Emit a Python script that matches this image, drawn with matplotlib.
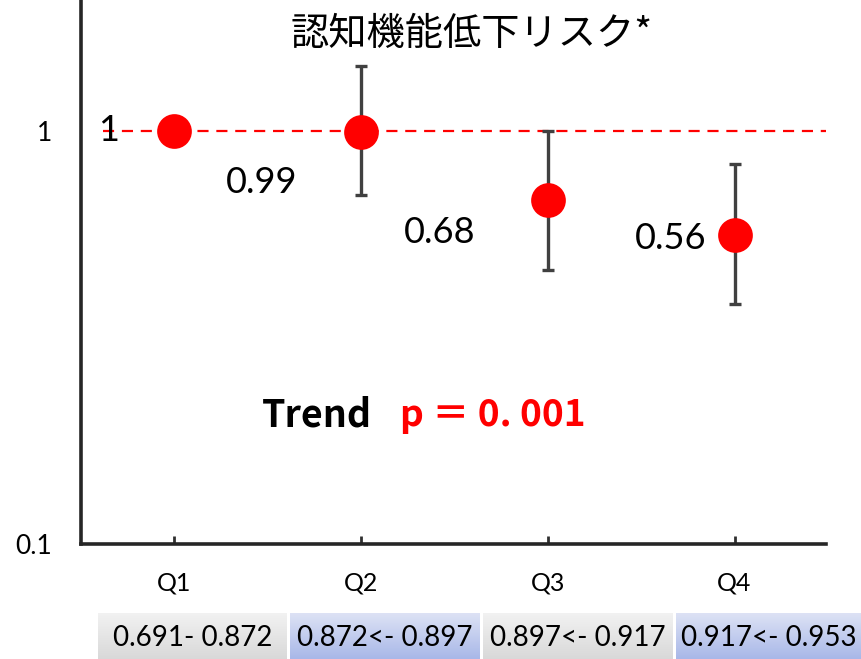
import matplotlib
matplotlib.use("Agg")
import matplotlib.pyplot as plt
import numpy as np

# quartile : hazard ratio : 95% CI
quartiles = ["Q1", "Q2", "Q3", "Q4"]
hr = [1.0, 0.99, 0.68, 0.56]
ci_low = [np.nan, 0.70, 0.46, 0.38]
ci_high = [np.nan, 1.43, 1.00, 0.83]
hr_labels = ["1", "0.99", "0.68", "0.56"]
ranges = ["0.691- 0.872", "0.872<- 0.897", "0.897<- 0.917", "0.917<- 0.953"]
title = "認知機能低下リスク*"
trend_p = "p ＝ 0. 001"

LATIN = ["Lato", "DejaVu Sans"]
CJK = ["Noto Sans CJK JP", "DejaVu Sans"]

fig = plt.figure(figsize=(8.61, 6.59), dpi=100)
ax = fig.add_axes([81 / 861, 1 - 544 / 659, 745 / 861, 544 / 659])

x = np.arange(1, len(quartiles) + 1)
hr = np.array(hr)
lo = np.array(ci_low)
hi = np.array(ci_high)

# reference line at HR = 1
ax.axhline(1, xmin=0.03, xmax=1, color="red", lw=1.6, ls=(0, (5, 3.5)), zorder=1)

# error bars (reference group has none)
m = ~np.isnan(lo)
ax.errorbar(x[m], hr[m], yerr=[hr[m] - lo[m], hi[m] - hr[m]], fmt="none",
            ecolor="#404040", elinewidth=2.4, capsize=4.5, capthick=2.4, zorder=2)
ax.plot(x, hr, "o", color="red", ms=25, mec="none", zorder=3)

# value labels, offset to the lower left of each point
offsets = [(-0.35, 0), (-0.53, -0.12), (-0.58, -0.08), (-0.34, -0.01)]
for xi, v, lab, (dx, dy) in zip(x, hr, hr_labels, offsets):
    ax.text(xi + dx, v * 10 ** dy, lab, fontsize=26, family=LATIN,
            ha="center", va="center", zorder=4)

ax.set_yscale("log")
ax.set_ylim(0.1, 2.07)
ax.set_xlim(0.5, 4.49)
ax.set_yticks([0.1, 1])
ax.set_yticklabels(["0.1", "1"], fontsize=19, family=LATIN)
ax.yaxis.set_minor_locator(matplotlib.ticker.NullLocator())
ax.tick_params(axis="y", length=0, pad=21)
ax.set_xticks(x)
ax.set_xticklabels(quartiles, fontsize=18, family=LATIN)
ax.tick_params(axis="x", direction="in", length=6, width=2, color="#303030", pad=20)

for s in ["top", "right"]:
    ax.spines[s].set_visible(False)
for s in ["left", "bottom"]:
    ax.spines[s].set_linewidth(2.6)
    ax.spines[s].set_color("#262626")

# title (second line of a two-line heading)
fig.text(472 / 861, 1 - 35 / 659, title, fontsize=27.5, family=CJK,
         ha="center", va="center")

# trend test
fig.text(372 / 861, 1 - 415 / 659, "Trend", fontsize=27, weight="bold",
         family=CJK, ha="right", va="center")
fig.text(400 / 861, 1 - 415 / 659, trend_p, fontsize=26.7, weight="bold",
         color="red", family=CJK, ha="left", va="center")

# range cells under the axis with vertical gradients
cell_edges = [(98, 287), (290, 480), (483, 673), (676, 861)]
grey = (np.array([0.95, 0.95, 0.95]), np.array([0.85, 0.85, 0.85]))
blue = (np.array([0.87, 0.89, 0.96]), np.array([0.66, 0.72, 0.91]))
for i, ((x0, x1), txt) in enumerate(zip(cell_edges, ranges)):
    top_c, bot_c = grey if i % 2 == 0 else blue
    cax = fig.add_axes([x0 / 861, 0, (x1 - x0) / 861, 46 / 659])
    t = np.linspace(0, 1, 64)[:, None]
    grad = top_c[None, :] * (1 - t) + bot_c[None, :] * t
    cax.imshow(grad[:, None, :], aspect="auto", extent=[0, 1, 0, 1])
    cax.set_axis_off()
    cax.text(0.5, 0.45, txt, fontsize=20, family=LATIN, ha="center", va="center",
             transform=cax.transAxes)

fig.savefig("out.png", dpi=100)
